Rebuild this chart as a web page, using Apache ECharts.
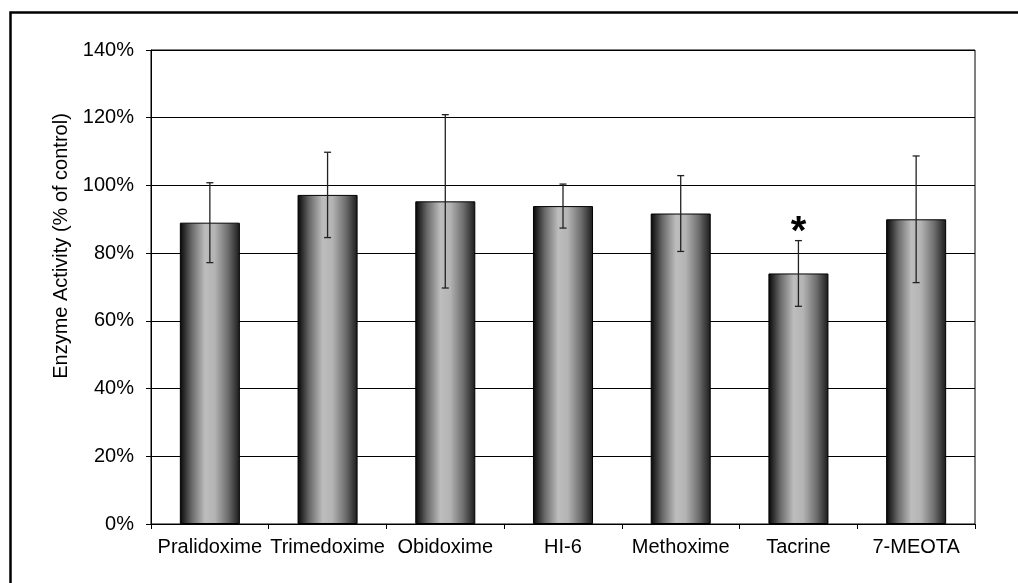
<!DOCTYPE html>
<html>
<head>
<meta charset="utf-8">
<script src="https://cdn.jsdelivr.net/npm/echarts@6/dist/echarts.min.js"></script>
<style>html,body{margin:0;padding:0;background:#fff}#c{width:1018px;height:583px}</style>
</head>
<body>
<div id="c"></div>
<script>
const categories = ['Pralidoxime', 'Trimedoxime', 'Obidoxime', 'HI-6', 'Methoxime', 'Tacrine', '7-MEOTA'];
const activity = [89.0, 97.2, 95.3, 93.9, 91.7, 74.0, 90.0];
const errorSD = [11.8, 12.6, 25.6, 6.5, 11.2, 9.7, 18.7];
const significance = ['', '', '', '', '', '*', ''];
const yTicks = [0, 20, 40, 60, 80, 100, 120, 140];
const yTitle = 'Enzyme Activity (% of control)';

const chart = echarts.init(document.getElementById('c'));
const font = 'Liberation Sans, Arial, sans-serif';

const errData = activity.map((v, i) => [i, v - errorSD[i], v + errorSD[i], significance[i]]);

chart.setOption({
  animation: false,
  backgroundColor: '#fff',
  graphic: [{
    type: 'rect', left: 8, top: 10, z: 100, silent: true,
    shape: { x: 0, y: 0, width: 1030, height: 600 },
    style: { fill: 'none', stroke: '#000', lineWidth: 2.5 }
  }, {
    type: 'text', x: 61, y: 246, rotation: Math.PI / 2, silent: true,
    style: { text: yTitle, align: 'center', verticalAlign: 'middle', font: '20px ' + font, fill: '#000' }
  }],
  grid: { left: 151, top: 50, right: 43, bottom: 59, show: true, borderColor: '#000', borderWidth: 1 },
  xAxis: {
    type: 'category', data: categories,
    axisLine: { lineStyle: { color: '#000', width: 1 } },
    axisTick: { show: true, length: 5, inside: false, lineStyle: { color: '#000' } },
    axisLabel: { color: '#000', fontSize: 20, fontFamily: font, margin: 13, interval: 0 },
    splitLine: { show: false }
  },
  yAxis: {
    type: 'value', min: yTicks[0], max: yTicks[yTicks.length - 1], interval: 20,
    axisLine: { show: true, lineStyle: { color: '#000', width: 1 } },
    axisTick: { show: true, length: 5, lineStyle: { color: '#000' } },
    axisLabel: { color: '#000', fontSize: 20, fontFamily: font, margin: 17, formatter: v => v + '%' },
    splitLine: { show: true, lineStyle: { color: '#000', width: 1 } }
  },
  series: [{
    type: 'bar', data: activity, barWidth: '51%',
    itemStyle: {
      borderColor: '#000', borderWidth: 1,
      color: {
        type: 'linear', x: 0, y: 0, x2: 1, y2: 0,
        colorStops: [
          { offset: 0, color: '#050505' },
          { offset: 0.2, color: '#6a6a6a' },
          { offset: 0.42, color: '#bdbdbd' },
          { offset: 0.58, color: '#b4b4b4' },
          { offset: 0.8, color: '#6e6e6e' },
          { offset: 1, color: '#1a1a1a' }
        ]
      }
    }
  }, {
    type: 'custom', data: errData, z: 10,
    encode: { x: 0, y: [1, 2] },
    renderItem: function (params, api) {
      const x = api.value(0);
      const lo = api.coord([x, api.value(1)]);
      const hi = api.coord([x, api.value(2)]);
      const cap = 3.5;
      const st = { stroke: '#222', lineWidth: 1.3 };
      const children = [
        { type: 'line', shape: { x1: hi[0], y1: hi[1], x2: lo[0], y2: lo[1] }, style: st },
        { type: 'line', shape: { x1: hi[0] - cap, y1: hi[1], x2: hi[0] + cap, y2: hi[1] }, style: st },
        { type: 'line', shape: { x1: lo[0] - cap, y1: lo[1], x2: lo[0] + cap, y2: lo[1] }, style: st }
      ];
      const sig = api.value(3);
      if (sig) {
        children.push({
          type: 'text',
          style: { text: sig, x: hi[0], y: hi[1] + 12, align: 'center', verticalAlign: 'bottom',
                   font: 'bold 40px ' + font, fill: '#000' }
        });
      }
      return { type: 'group', children: children };
    }
  }]
});
</script>
</body>
</html>
